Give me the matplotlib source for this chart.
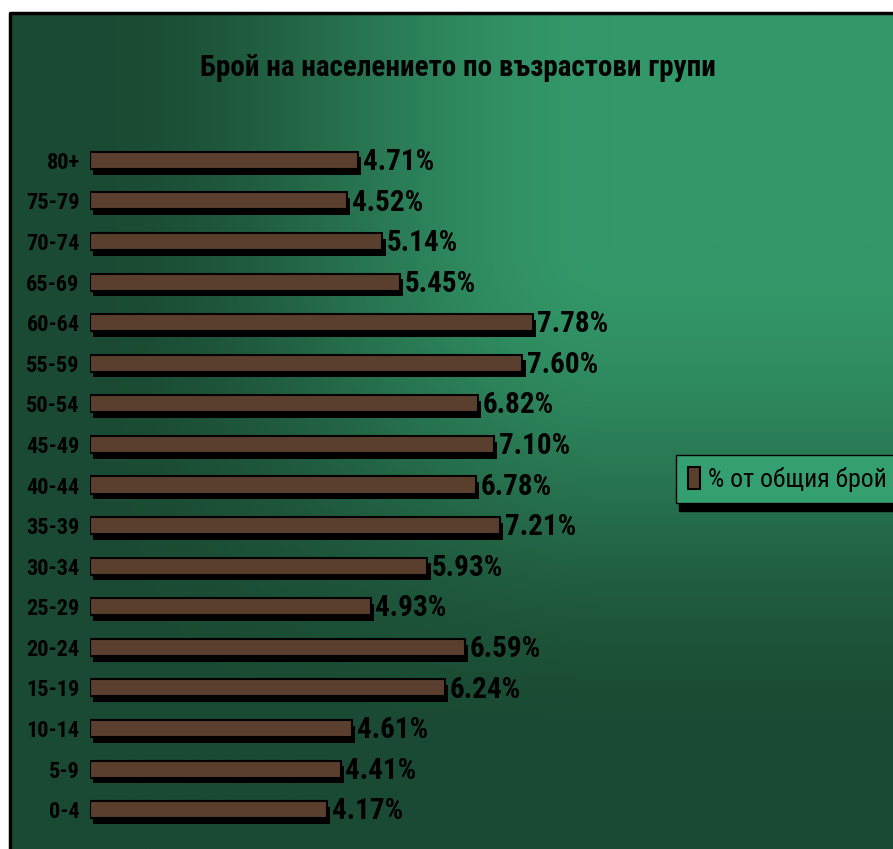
import numpy as np
import matplotlib.pyplot as plt
from matplotlib import font_manager

# a narrow family, falling back to the default
installed = {}
for f in font_manager.fontManager.ttflist:
    installed.setdefault(f.name, set()).add(f.weight)
narrow = [n for n in ['Liberation Sans Narrow', 'Roboto Condensed', 'PT Sans Narrow',
                      'Arimo', 'Roboto'] if n in installed]
plt.rcParams['font.family'] = narrow[:1] + ['DejaVu Sans']

groups = ['0-4', '5-9', '10-14', '15-19', '20-24', '25-29', '30-34', '35-39', '40-44',
          '45-49', '50-54', '55-59', '60-64', '65-69', '70-74', '75-79', '80+']
share = [4.17, 4.41, 4.61, 6.24, 6.59, 4.93, 5.93, 7.21, 6.78,
         7.10, 6.82, 7.60, 7.78, 5.45, 5.14, 4.52, 4.71]
title = 'Брой на населението по възрастови групи'
series_name = '% от общия брой'

W, H = 893, 849
fig = plt.figure(figsize=(W / 100, H / 100), dpi=100)
fig.patch.set_facecolor('white')


def smooth(a):
    a = np.clip(a, 0, 1)
    return a * a * (3 - 2 * a)


# background gradient inside the chart frame
bg = fig.add_axes([0, 0, 1, 1])
bg.set_xlim(0, W)
bg.set_ylim(H, 0)
bg.axis('off')
x0, y0 = 10, 13
xx, yy = np.meshgrid(np.linspace(0, 1, 300), np.linspace(0, 1, 300))
t = smooth((xx - 0.08) / 0.6) * (1 - smooth((yy - 0.28) / 0.6))
dark = np.array([0x1a, 0x4a, 0x33]) / 255
light = np.array([0x33, 0x98, 0x69]) / 255
img = dark + t[..., None] * (light - dark)
bg.imshow(img, extent=(x0, W, H, y0), aspect='auto', interpolation='bilinear')
bg.plot([x0, x0, W], [H, y0, y0], color='black', lw=2.5, solid_capstyle='butt')

ax = fig.add_axes([90 / W, 1 - 830 / H, 560 / W, 690 / H])
ax.set_facecolor('none')
ypos = np.arange(len(groups))
bar_h = 0.42
ax.barh(ypos - 0.14, share, left=0.055, height=bar_h, color='black', zorder=1)
ax.barh(ypos, share, height=bar_h, color='#5b3f2e', edgecolor='black', linewidth=1.5,
        zorder=2, label=series_name)
for y, v in zip(ypos, share):
    ax.text(v + 0.08, y - 0.04, f'{v:.2f}%', va='center', ha='left',
            fontsize=21, fontweight='bold', color='black')
ax.set_xlim(0, 560 / 56.9)
ax.set_ylim(-0.5, len(groups) - 0.5)
ax.set_yticks(ypos)
ax.set_yticklabels(groups, fontsize=16, fontweight='bold')
ax.tick_params(left=False, bottom=False, labelbottom=False, pad=4)
ax.set_xticks([])
for s in ax.spines.values():
    s.set_visible(False)

fig.text(458 / W, 1 - 68 / H, title, ha='center', va='center', fontsize=21, fontweight='bold')

leg = ax.legend(loc='upper left', bbox_to_anchor=(676 / W, 1 - 455 / H), bbox_transform=fig.transFigure,
                borderaxespad=0, fancybox=False, framealpha=1, facecolor='#35a06f', edgecolor='black',
                handlelength=0.5, handleheight=0.95, handletextpad=0.3, borderpad=0.45,
                prop={'size': 18.5}, shadow={'color': 'black', 'alpha': 1, 'ox': 2.5, 'oy': -6})
leg.get_frame().set_linewidth(1)

fig.savefig('out.png', dpi=100)
